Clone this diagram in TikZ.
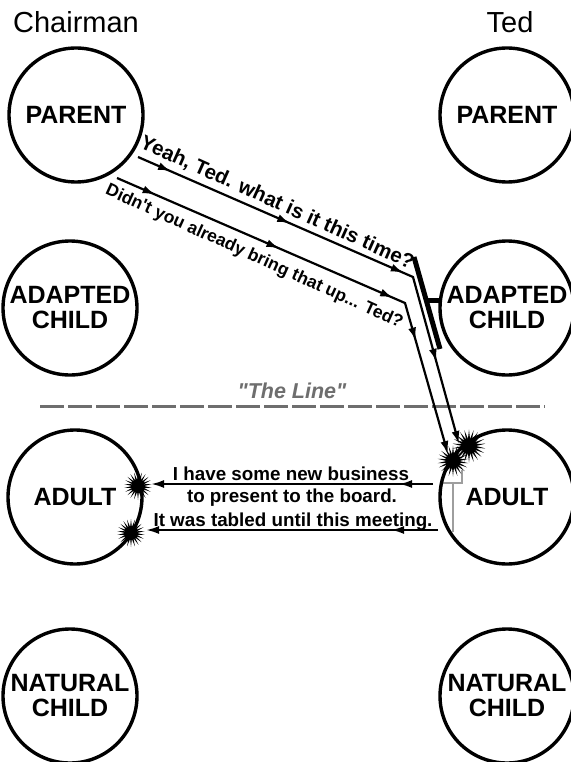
\documentclass[tikz,border=0pt]{standalone}
\usepackage{fontspec}
\setmainfont{Liberation Sans}
\usetikzlibrary{shapes.geometric,arrows.meta,decorations.markings}
\begin{document}
\begin{tikzpicture}[x=1pt,y=-1pt,
  circ/.style={circle, draw, line width=3.4pt, minimum size=134pt, inner sep=0pt, align=center,
    font=\fontsize{25}{25}\selectfont\bfseries},
  head/.style={font=\fontsize{29}{31}\selectfont},
  msg/.style={line width=2.2pt, line join=miter, -{Latex[length=13pt,width=8pt]}},
  ar/.style={postaction={decorate, decoration={markings, mark=at position #1 with {\arrow{Latex[length=13pt,width=8pt]}}}}},
  burst/.style={star, star points=22, star point ratio=2.3, fill=black, draw=none, inner sep=0pt, minimum size=#1},
  talk/.style={font=\fontsize{18.8}{21}\selectfont\bfseries, inner sep=0pt},
  graybr/.style={draw=black!38, line width=2pt},
  barline/.style={line width=5pt}
]
\useasboundingbox (0,0) rectangle (570,762);

% headings
\node[head] (hchair) at (76,22) {Chairman};
\node[head] (hted) at (510,22) {Ted};

% gray bracket
\coordinate (g1) at (462,470);
\coordinate (g2) at (462,483);
\coordinate (g3) at (443,483);
\coordinate (g4) at (453,483);
\coordinate (g5) at (453,532);
\draw[graybr] (g1) -- (g2) -- (g3);
\draw[graybr] (g4) -- (g5);

% circles
\node[circ] (cpar) at (76,115) {PARENT};
\node[circ] (cadc) at (70,308) {ADAPTED\\CHILD};
\node[circ] (cadu) at (75,497) {ADULT};
\node[circ] (cnat) at (70,696) {NATURAL\\CHILD};
\node[circ] (tpar) at (507,115) {PARENT};
\node[circ] (tadc) at (507,308) {ADAPTED\\CHILD};
\node[circ] (tadu) at (507,497) {ADULT};
\node[circ] (tnat) at (507,696) {NATURAL\\CHILD};

% The Line
\coordinate (l1) at (40,406);
\coordinate (l2) at (545,406);
\draw[draw=black!57, line width=3pt, dash pattern=on 24pt off 4pt] (l1) -- (l2);
\node[font=\fontsize{21.5}{23}\selectfont\bfseries\itshape, text=black!57] (tline) at (292,391) {\textquotedbl The Line\textquotedbl};

% bursts
\node[burst=28pt] (bl1) at (138,486) {};
\node[burst=28pt] (bl2) at (131,533) {};
\node[burst=31pt] (br1) at (453,461) {};
\node[burst=33pt] (br2) at (469,446) {};

% blocking bar
\coordinate (bar1) at (414,257);
\coordinate (bar2) at (440,349);
\coordinate (st1) at (426,300);
\coordinate (st2) at (442,300);
\draw[barline] (bar1) -- (bar2);
\draw[barline] (st1) -- (st2);

% diagonal messages
\coordinate (a1) at (138,157);
\coordinate (b1) at (413,277);
\coordinate (c1) at (459,444);
\coordinate (a2) at (117,178);
\coordinate (b2) at (405,303);
\coordinate (c2) at (448,454);
\draw[msg, ar=36pt, ar=166pt, ar=290pt, ar=388pt] (a1) -- (b1) -- (c1);
\draw[msg, ar=42pt, ar=177pt, ar=301pt, ar=353pt] (a2) -- (b2) -- (c2);
\node[rotate=-24.2, inner sep=0pt, font=\fontsize{20.5}{23}\selectfont\bfseries] (ty) at (277,203) {Yeah, Ted. what is it this time?};
\node[rotate=-24.5, inner sep=0pt, font=\fontsize{17.5}{19}\selectfont\bfseries] (td) at (254,257) {Didn\textquotesingle t you already bring that up... Ted?};

% horizontal messages
\coordinate (h1s) at (433,484);
\coordinate (h1e) at (151,484);
\coordinate (h2s) at (438,530);
\coordinate (h2e) at (146,530);
\draw[msg, ar=34pt] (h1s) -- (h1e);
\draw[msg, ar=47pt] (h2s) -- (h2e);
\node[talk, anchor=base] (m1) at (291,480) {I have some new business};
\node[talk, anchor=base] (m2) at (292,502) {to present to the board.};
\node[talk, anchor=base] (m3) at (293,526) {It was tabled until this meeting.};
\end{tikzpicture}
\end{document}
